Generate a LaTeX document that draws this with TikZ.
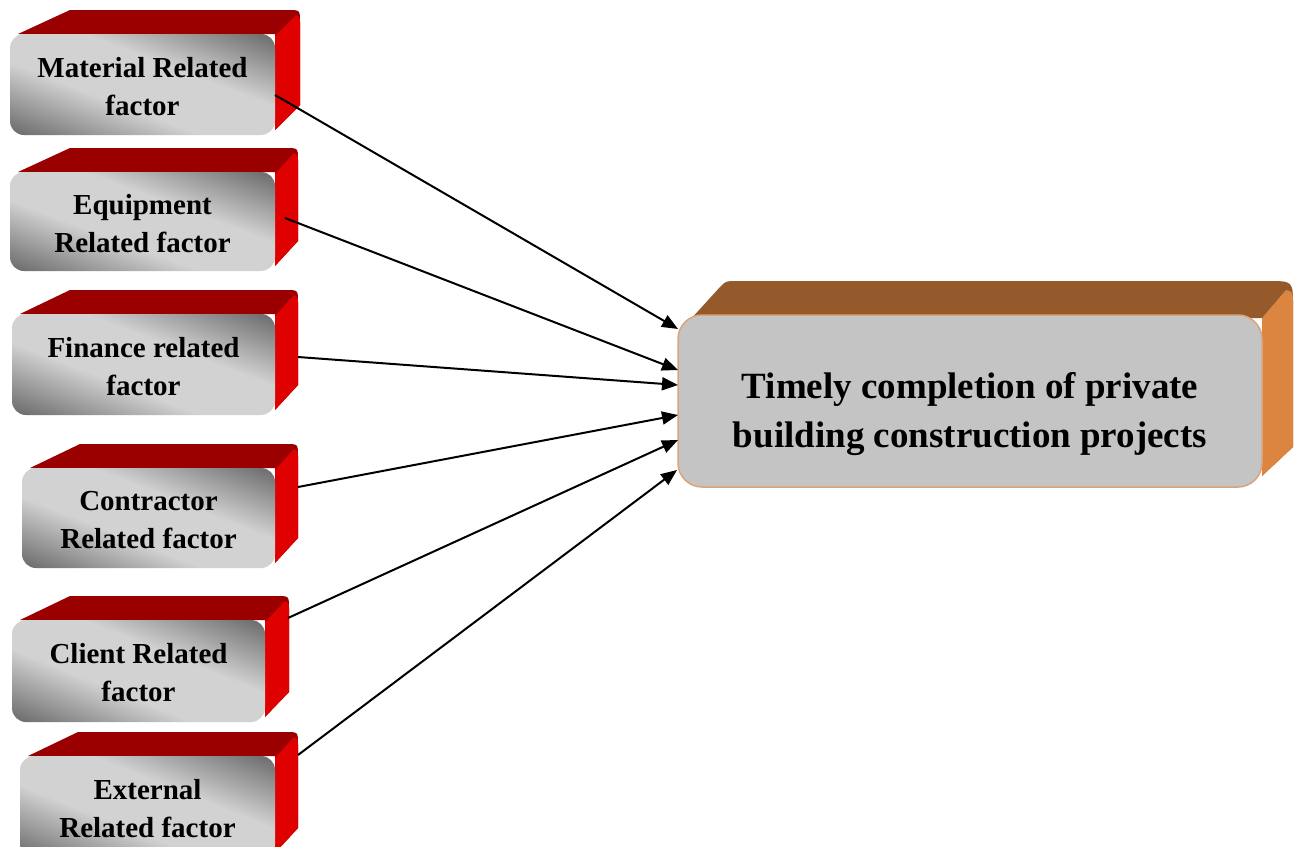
\documentclass[tikz,border=0pt]{standalone}
\usepackage{fontspec}
\setmainfont{Liberation Serif}
\usetikzlibrary{arrows.meta,calc}
\definecolor{topred}{HTML}{9A0000}
\definecolor{sidered}{HTML}{DF0000}
\definecolor{facedark}{HTML}{686868}
\definecolor{facelight}{HTML}{D2D2D2}
\definecolor{topbrown}{HTML}{945A2B}
\definecolor{sideorange}{HTML}{DB8540}
\definecolor{bigface}{HTML}{C4C4C4}
\definecolor{bigborder}{HTML}{D9A47C}
\pgfdeclarehorizontalshading{facesh}{100bp}{color(0bp)=(facedark); color(25bp)=(facedark); color(43bp)=(facelight); color(57bp)=(facelight); color(75bp)=(facedark); color(100bp)=(facedark)}
\tikzset{
  lefttext/.style={align=center, inner sep=0pt, font=\fontsize{29}{38}\selectfont\bfseries},
  bigfacestyle/.style={rounded corners=24pt, fill=bigface, draw=bigborder, line width=1.5pt, inner sep=0pt},
  bigtext/.style={align=center, inner sep=0pt, font=\fontsize{37}{49}\selectfont\bfseries},
  conn/.style={line width=2pt, -{Triangle[length=16pt,width=13pt]}}
}
% #1 name, #2 L, #3 T, #4 R, #5 B, #6 back-left x, #7 back-right x, #8 text
\newcommand\facbox[8]{%
  \fill[topred] ({#2+8},#3) -- (#6,{#3-24}) -- ({#7-12},{#3-24}) .. controls (#7,{#3-24}) .. (#7,{#3-12}) -- (#7,{#5-30}) -- (#4,{#5-5}) -- (#4,#3) -- cycle;
  \fill[sidered] (#4,{#3+2}) -- ({#7-4},{#3-19}) .. controls (#7,{#3-17}) .. (#7,{#3-10}) -- (#7,{#5-30}) -- (#4,{#5-5}) -- cycle;
  \begin{scope}
    \clip[rounded corners=14pt] (#2,#3) rectangle (#4,#5);
    \begin{scope}[transform canvas={cm={{(#4-#2)/2},{(#5-#3)/2},{(#4-#2)},{-(#5-#3)},({(#2+#4)/2*1pt},{-(#3+#5)/2*1pt})}}]
      \shade[shading=facesh] (-1pt,-1pt) rectangle (1pt,1pt);
    \end{scope}
  \end{scope}
  \node[lefttext, minimum width={(#4-#2)*1pt}, minimum height={(#5-#3)*1pt}] (#1) at ({(#2+#4)/2},{(#3+#5)/2+2}) {#8};
}
\begin{document}
\begin{tikzpicture}[x=1pt,y=-1pt]
\useasboundingbox (0,0) rectangle (1295,846);
\facbox{m1}{10}{34}{275}{135}{70}{300}{Material Related\\factor}
\facbox{m2}{10}{172}{275}{271}{70}{298}{Equipment\\Related factor}
\facbox{m3}{12}{314}{275}{415}{70}{298}{Finance related\\factor}
\facbox{m4}{22}{468}{275}{568}{80}{298}{Contractor\\Related factor}
\facbox{m5}{12}{620}{265}{722}{70}{289}{Client Related\\factor}
\facbox{m6}{20}{756}{275}{858}{78}{298}{External\\Related factor}
% target box
\fill[topbrown] (690,320) -- (720,287) .. controls (726,281) .. (736,281) -- (1268,281) .. controls (1293,281) .. (1293,306) -- (1293,447) -- (1262,476) -- (1262,318) -- cycle;
\fill[sideorange] (1262,318) -- (1286,290) .. controls (1293,292) .. (1293,304) -- (1293,447) -- (1262,476) -- cycle;
\node[bigfacestyle, minimum width=584pt, minimum height=172pt] (t) at (970,401) {};
\node[bigtext] (ttext) at (970,414) {Timely completion of private\\building construction projects};
% connectors
\coordinate (s1) at (275,95);
\coordinate (s2) at (285,218);
\coordinate (s3) at (298,357);
\coordinate (s4) at (298,487);
\coordinate (s5) at (288,618);
\coordinate (s6) at (298,755);
\coordinate (e1) at (678,329);
\coordinate (e2) at (678,370);
\coordinate (e3) at (678,385);
\coordinate (e4) at (678,415);
\coordinate (e5) at (678,440);
\coordinate (e6) at (677,470);
\draw[conn] (s1) -- (e1);
\draw[conn] (s2) -- (e2);
\draw[conn] (s3) -- (e3);
\draw[conn] (s4) -- (e4);
\draw[conn] (s5) -- (e5);
\draw[conn] (s6) -- (e6);
\end{tikzpicture}
\end{document}
